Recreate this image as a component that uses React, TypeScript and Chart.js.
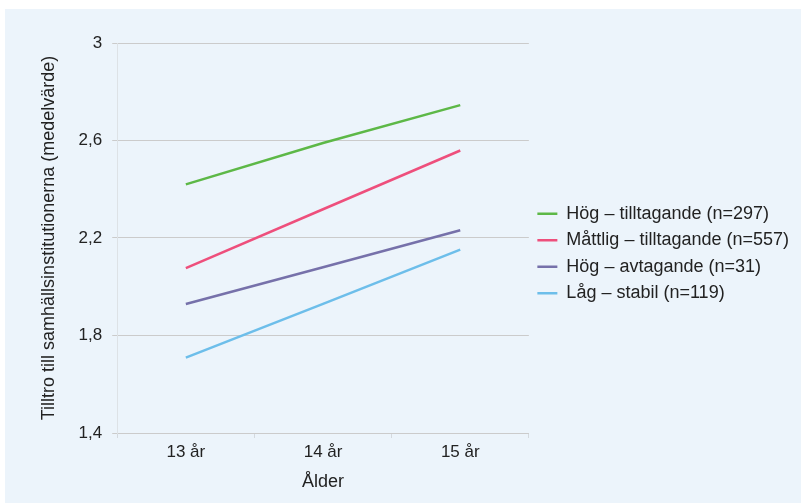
import React, { useEffect, useRef } from "react";
import { Chart, registerables } from "chart.js";

Chart.register(...registerables);

const categories = ["13 år", "14 år", "15 år"];
const seriesNames = [
  "Hög – tilltagande (n=297)",
  "Måttlig – tilltagande (n=557)",
  "Hög – avtagande (n=31)",
  "Låg – stabil (n=119)",
];
const hogTilltagande = [2.42, 2.59, 2.745];
const mattligTilltagande = [2.076, 2.318, 2.559];
const hogAvtagande = [1.929, 2.08, 2.232];
const lagStabil = [1.709, 1.93, 2.152];
const seriesColors = ["#5DB847", "#EE4F7C", "#7671AA", "#6DBEEA"];
const yTicks = [1.4, 1.8, 2.2, 2.6, 3];

export default function App() {
  const ref = useRef<HTMLCanvasElement | null>(null);

  useEffect(() => {
    document.body.style.margin = "0";
    const ctx = ref.current!;
    const values = [hogTilltagande, mattligTilltagande, hogAvtagande, lagStabil];
    const font = "'Liberation Sans', Arial, Helvetica, sans-serif";
    const chart = new Chart(ctx, {
      type: "line",
      data: {
        labels: categories,
        datasets: seriesNames.map((name, i) => ({
          label: name,
          data: values[i],
          borderColor: seriesColors[i],
          backgroundColor: seriesColors[i],
          borderWidth: 2.5,
          pointRadius: 0,
          pointHoverRadius: 0,
          tension: 0,
          pointStyle: "line",
        })),
      },
      options: {
        animation: false,
        responsive: false,
        maintainAspectRatio: false,
        layout: { padding: { top: 5, right: 2, bottom: 10, left: 33 } },
        plugins: {
          tooltip: { enabled: false },
          title: {
            display: true,
            text: "",
            fullSize: false,
            font: { family: font, size: 10 },
            padding: { top: 17, bottom: 0 },
          },
          legend: {
            position: "right",
            align: "center",
            fullSize: true,
            maxWidth: 320,
            labels: {
              usePointStyle: true,
              pointStyle: "line",
              pointStyleWidth: 20,
              boxWidth: 20,
              boxHeight: 3,
              padding: 8.5,
              color: "#222",
              font: { family: font, size: 18 },
            },
          },
        },
        scales: {
          x: {
            offset: true,
            grid: {
              display: true,
              drawOnChartArea: false,
              drawTicks: true,
              tickLength: 5,
              offset: true,
              color: "#D4D9DE",
            },
            border: { display: false },
            ticks: { color: "#222", font: { family: font, size: 17 }, padding: 4 },
            title: {
              display: true,
              text: "Ålder",
              color: "#222",
              font: { family: font, size: 18 },
              padding: { top: 5, bottom: 0 },
            },
          },
          y: {
            min: 1.4,
            max: 3,
            afterBuildTicks: (axis: any) => {
              axis.ticks = yTicks.map((v) => ({ value: v }));
            },
            grid: {
              color: "#CBCBCB",
              tickLength: 5,
              drawTicks: true,
            },
            border: { display: true, color: "#DDE2E6" },
            ticks: {
              color: "#222",
              font: { family: font, size: 17 },
              padding: 10,
              callback: (v: any) => String(Number(v)).replace(".", ","),
            },
            title: {
              display: true,
              text: "Tilltro till samhällsinstitutionerna (medelvärde)",
              color: "#222",
              font: { family: font, size: 18 },
              padding: { top: 0, bottom: 9 },
            },
          },
        },
      },
    });
    return () => chart.destroy();
  }, []);

  return (
    <div style={{ position: "relative", width: 801, height: 503, background: "#fff" }}>
      <div
        style={{
          position: "absolute",
          left: 5,
          top: 9,
          width: 796,
          height: 494,
          background: "#ECF4FB",
        }}
      >
        <canvas ref={ref} width={796} height={494} style={{ display: "block" }} />
      </div>
    </div>
  );
}
